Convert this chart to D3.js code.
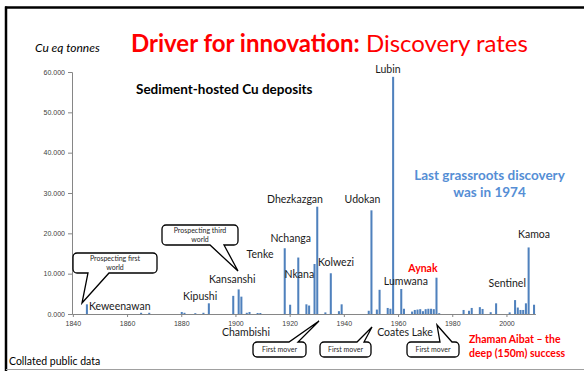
<!DOCTYPE html>
<html>
<head>
<meta charset="utf-8">
<script src="https://cdn.jsdelivr.net/npm/d3@7"></script>
<style>
  body { margin: 0; background: #fff; }
  svg { display: block; font-family: Lato, "Open Sans", sans-serif; }
  .tick text { fill: #404040; font-size: 7px; }
  .domain, .tick line { stroke: #868686; }
</style>
</head>
<body>
<script>
// discovery year / contained Cu (tonnes) of sediment-hosted Cu deposits
var years  = [1845, 1865, 1868, 1880, 1881, 1885, 1888, 1890, 1899, 1901, 1902, 1904, 1905, 1908, 1909,
              1918, 1920, 1923, 1926, 1927, 1929, 1930, 1933, 1935, 1938, 1939,
              1949, 1950, 1952, 1953, 1956, 1957, 1958, 1961, 1962,
              1965, 1966, 1967, 1968, 1969, 1970, 1971, 1972, 1973, 1974, 1975,
              1984, 1986, 1987, 1990, 1991, 1994, 1996, 2001, 2003, 2004, 2005, 2006, 2007, 2008, 2010]
var tonnes = [2400, 300, 300, 500, 300, 200, 300, 2650, 4500, 6100, 4300, 300, 500, 250, 250,
              16300, 2300, 14000, 2400, 2100, 12400, 26600, 400, 10100, 700, 2400,
              800, 25700, 1100, 6000, 1500, 1300, 58800, 6200, 1300,
              600, 1000, 1100, 1200, 700, 1200, 1300, 1300, 1200, 9000, 200,
              1000, 800, 1500, 1700, 1250, 450, 2650, 400, 3450, 1600, 1000, 1000, 2650, 16500, 2300]

var firstYear = 1840, lastYear = 2010
var yTicks = [0, 10000, 20000, 30000, 40000, 50000, 60000]
var xTickYears = [1840, 1860, 1880, 1900, 1920, 1940, 1960, 1980, 2000]

// deposit names with the label's centre position in axis units (year, tonnes)
var depositNames = ["Lubin", "Dhezkazgan", "Udokan", "Nchanga", "Tenke", "Nkana", "Kolwezi",
                    "Kansanshi", "Kipushi", "Keweenawan", "Lumwana", "Sentinel", "Kamoa", "Chambishi", "Coates Lake"]
var depositX = [1956.6, 1922.3, 1947.2, 1920.7, 1909.4, 1923.9, 1937.4, 1899.1, 1887.3, 1857.6, 1963.2, 2000.6, 2010.5, 1904.2, 1962.9]
var depositY = [59800, 27600, 27600, 17800, 13900, 8900, 11800, 7600, 3400, 1100, 7200, 6700, 18900, -5400, -5400]

var width = 584, height = 371
var plot = {left: 72, right: 535.4, top: 72, bottom: 314}

var svg = d3.select("body").append("svg")
    .attr("width", width)
    .attr("height", height)

// frame
svg.append("line").attr("x1", 6).attr("x2", 6).attr("y1", 6.5).attr("y2", 371)
    .attr("stroke", "#000").attr("stroke-width", 2.5)
svg.append("line").attr("x1", 5).attr("x2", 584).attr("y1", 7.5).attr("y2", 7.5)
    .attr("stroke", "#000").attr("stroke-width", 2.5)
svg.append("line").attr("x1", 6).attr("x2", 584).attr("y1", 369.5).attr("y2", 369.5)
    .attr("stroke", "#a0a0a0").attr("stroke-width", 1)

// scales
var allYears = d3.range(firstYear, lastYear + 1)
var x = d3.scaleBand()
    .domain(allYears)
    .range([plot.left, plot.right])
    .paddingInner(0.25)
    .paddingOuter(0.125)
var xLin = d3.scaleLinear().domain([firstYear, lastYear + 1]).range([plot.left, plot.right])
var y = d3.scaleLinear().domain([0, 60000]).range([plot.bottom, plot.top])

// axes
svg.append("g")
    .attr("transform", "translate(" + plot.left + ",0)")
    .call(d3.axisLeft(y).tickValues(yTicks).tickSize(4).tickPadding(3)
        .tickFormat(function(d) { return (d / 1000).toFixed(3) }))

svg.append("g")
    .attr("transform", "translate(0," + plot.bottom + ")")
    .call(d3.axisBottom(x).tickValues(xTickYears).tickSize(3).tickPadding(4).tickSizeOuter(0))

// bars
var bars = years.map(function(yr, i) { return {year: yr, value: tonnes[i]} })
svg.append("g").selectAll("rect")
    .data(bars)
    .enter().append("rect")
    .attr("x", function(d) { return x(d.year) })
    .attr("width", x.bandwidth())
    .attr("y", function(d) { return y(d.value) })
    .attr("height", function(d) { return plot.bottom - y(d.value) })
    .attr("fill", "#4f81bd")

// deposit labels
svg.append("g").selectAll("text")
    .data(depositNames)
    .enter().append("text")
    .attr("x", function(d, i) { return xLin(depositX[i]) })
    .attr("y", function(d, i) { return y(depositY[i]) })
    .attr("text-anchor", "middle")
    .attr("font-size", 10.5)
    .attr("fill", "#1a1a1a")
    .text(function(d) { return d })

svg.append("text")
    .attr("x", xLin(1969.5)).attr("y", y(10400))
    .attr("text-anchor", "middle")
    .attr("font-size", 10.5).attr("font-weight", "bold").attr("fill", "#ff0000")
    .text("Aynak")

// titles
svg.append("text").attr("x", 35).attr("y", 52)
    .attr("font-size", 12).attr("font-style", "italic").attr("fill", "#000")
    .text("Cu eq tonnes")

var title = svg.append("text").attr("x", 131).attr("y", 52)
    .attr("font-size", 24).attr("fill", "#ff0000")
title.append("tspan").attr("font-weight", "bold").text("Driver for innovation:")
title.append("tspan").text(" Discovery rates")

svg.append("text").attr("x", 136).attr("y", 94)
    .attr("font-size", 13.5).attr("font-weight", "bold").attr("fill", "#000")
    .text("Sediment-hosted Cu deposits")

var grass = svg.append("text").attr("text-anchor", "middle")
    .attr("font-size", 13.5).attr("font-weight", "bold").attr("fill", "#558ed5")
grass.append("tspan").attr("x", 489.5).attr("y", 180).text("Last grassroots discovery")
grass.append("tspan").attr("x", 489.5).attr("y", 197).text("was in 1974")

var zh = svg.append("text")
    .attr("font-size", 10.5).attr("font-weight", "bold").attr("fill", "#ff0000")
zh.append("tspan").attr("x", 469).attr("y", 343).text("Zhaman Aibat \u2013 the")
zh.append("tspan").attr("x", 469).attr("y", 357).text("deep (150m) success")

svg.append("text").attr("x", 9).attr("y", 365)
    .attr("font-size", 10.5).attr("fill", "#000")
    .text("Collated public data")

// callout bubbles: rect box, two base points on the box edge and a tip
function bubble(b) {
  var g = svg.append("g")
  var r = 4
  var x0 = b.x0, x1 = b.x1, y0 = b.y0, y1 = b.y1
  var p = d3.path()
  p.moveTo(x0 + r, y0)
  if (b.side === "top") {
    p.lineTo(b.base[0], y0); p.lineTo(b.tip[0], b.tip[1]); p.lineTo(b.base[1], y0)
  }
  p.lineTo(x1 - r, y0); p.arcTo(x1, y0, x1, y0 + r, r)
  p.lineTo(x1, y1 - r); p.arcTo(x1, y1, x1 - r, y1, r)
  if (b.side === "bottom") {
    p.lineTo(b.base[1], y1); p.lineTo(b.tip[0], b.tip[1]); p.lineTo(b.base[0], y1)
  }
  p.lineTo(x0 + r, y1); p.arcTo(x0, y1, x0, y1 - r, r)
  p.lineTo(x0, y0 + r); p.arcTo(x0, y0, x0 + r, y0, r)
  p.closePath()
  g.append("path").attr("d", p.toString())
    .attr("fill", "#fff").attr("stroke", "#000").attr("stroke-width", 1.3)
  var t = g.append("text").attr("text-anchor", "middle")
    .attr("font-size", 7).attr("fill", "#262626")
  var cx = (x0 + x1) / 2
  var n = b.lines.length
  b.lines.forEach(function(l, i) {
    t.append("tspan").attr("x", cx)
      .attr("y", (y0 + y1) / 2 + 2.5 + (i - (n - 1) / 2) * 8.5).text(l)
  })
}

bubble({x0: 73, x1: 157, y0: 253, y1: 273, side: "bottom", base: [88, 109], tip: [82, 303], lines: ["Prospecting first", "world"]})
bubble({x0: 162, x1: 238, y0: 225, y1: 245, side: "bottom", base: [210, 224], tip: [238, 271], lines: ["Prospecting third", "world"]})
bubble({x0: 253, x1: 306, y0: 342, y1: 357, side: "top", base: [289, 298], tip: [319, 321], lines: ["First mover"]})
bubble({x0: 320, x1: 371, y0: 342, y1: 357, side: "top", base: [357, 364], tip: [372, 327], lines: ["First mover"]})
bubble({x0: 407, x1: 459, y0: 342, y1: 357, side: "top", base: [440, 452], tip: [437, 325], lines: ["First mover"]})
</script>
</body>
</html>
